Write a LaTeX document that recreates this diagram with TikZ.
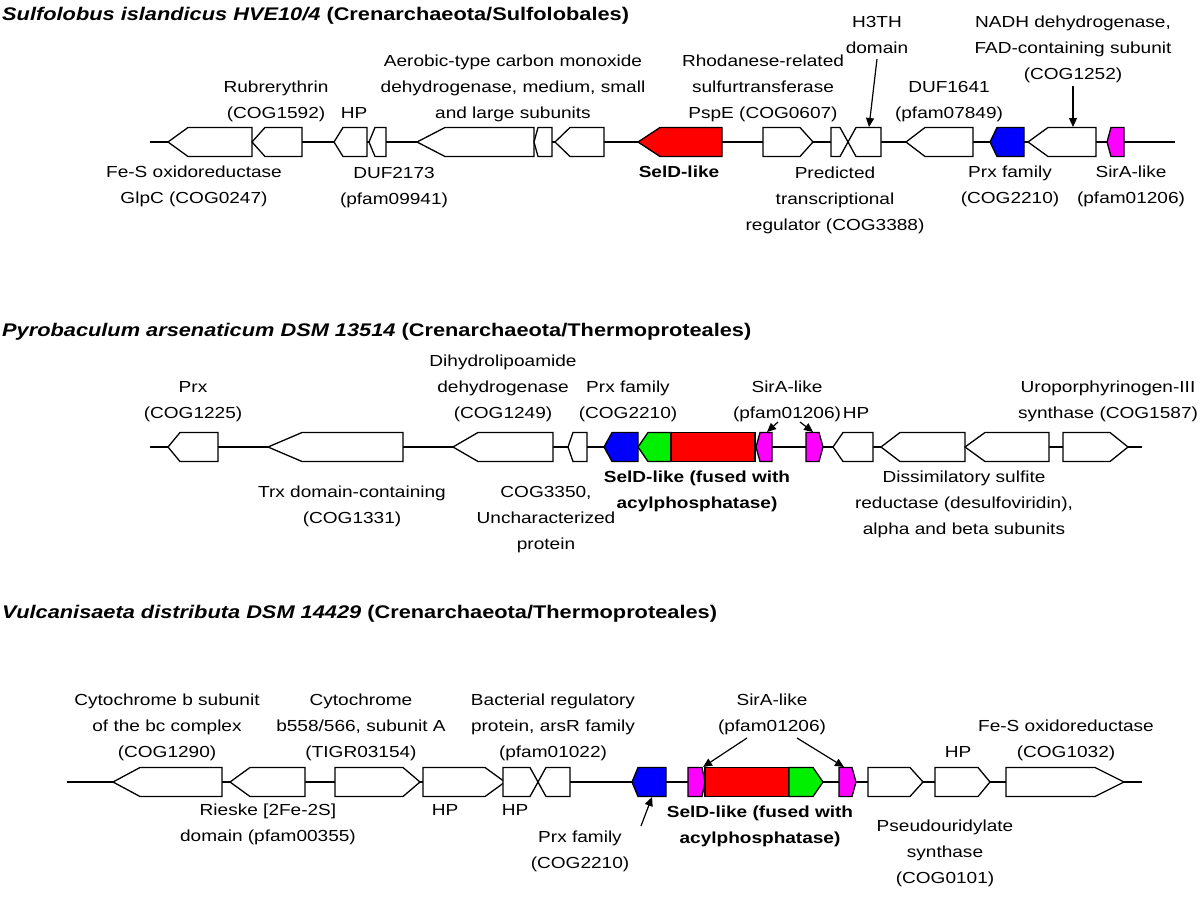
\documentclass[tikz,border=0pt]{standalone}
\usepackage{fontspec}
\setmainfont{Liberation Sans}[FakeStretch=1.19]
\usetikzlibrary{arrows.meta}
\definecolor{gred}{RGB}{255,0,0}
\definecolor{ggreen}{RGB}{0,240,0}
\definecolor{gblue}{RGB}{0,0,255}
\definecolor{gmag}{RGB}{255,0,255}
\newcommand{\hh}{14.5}
% left-pointing gene: name, tip, shoulder, right, y, fill
\newcommand{\gleft}[6]{\draw[gene,fill=#6] (#2,#5) -- (#3,{#5-\hh}) -- (#4,{#5-\hh}) -- (#4,{#5+\hh}) -- (#3,{#5+\hh}) -- cycle; \coordinate (#1) at ({(#2+#4)/2},#5);}
% right-pointing gene: name, left, shoulder, tip, y, fill
\newcommand{\gright}[6]{\draw[gene,fill=#6] (#2,{#5-\hh}) -- (#3,{#5-\hh}) -- (#4,#5) -- (#3,{#5+\hh}) -- (#2,{#5+\hh}) -- cycle; \coordinate (#1) at ({(#2+#4)/2},#5);}
% rectangular block: name, left, right, y, fill
\newcommand{\gblock}[5]{\draw[gene,fill=#5] (#2,{#4-\hh}) rectangle (#3,{#4+\hh}); \coordinate (#1) at ({(#2+#3)/2},#4);}
\begin{document}
\begin{tikzpicture}[x=1pt,y=-1pt,
  gene/.style={draw=black,line width=1.3pt,line join=miter},
  bb/.style={draw=black,line width=1.3pt},
  lab/.style={font=\fontsize{16}{26}\selectfont,align=center,inner sep=0pt},
  ttl/.style={font=\fontsize{18.3}{26}\selectfont\bfseries,anchor=base west,inner sep=0pt},
  arr/.style={draw=black,line width=1.2pt,-{Triangle[length=9pt,width=8pt]}}]
\useasboundingbox (0,0) rectangle (1200,897);

% ---------------- Row 1 ----------------
\node[ttl] (t1) at (2,20) {\textit{Sulfolobus islandicus HVE10/4} (Crenarchaeota/Sulfolobales)};
\coordinate (b1s) at (150,142); \coordinate (b1e) at (1175,142);
\draw[bb] (b1s) -- (b1e);
\gleft{g1a}{168}{188}{252}{142}{white}
\gleft{g1b}{252}{265}{302}{142}{white}
\gleft{g1c}{334}{343}{367}{142}{white}
\gleft{g1d}{369}{375}{386}{142}{white}
\gleft{g1e}{417}{445}{534}{142}{white}
\gleft{g1f}{534}{538}{552}{142}{white}
\gleft{g1g}{555}{570}{604}{142}{white}
\gleft{g1h}{638}{660}{722}{142}{gred}
\gright{g1i}{763}{800}{813}{142}{white}
\gright{g1j}{831}{840}{848}{142}{white}
\gleft{g1k}{848}{856}{881}{142}{white}
\gleft{g1l}{906}{925}{973}{142}{white}
\gleft{g1m}{990}{997}{1024}{142}{gblue}
\gleft{g1n}{1028}{1048}{1096}{142}{white}
\gleft{g1o}{1107}{1111}{1124}{142}{gmag}

\node[lab] (r1a) at (276,100) {\strut Rubrerythrin\\(COG1592)\strut};
\node[lab] (r1b) at (354,113) {\strut HP\strut};
\node[lab] (r1c) at (513,87) {\strut Aerobic-type carbon monoxide\\dehydrogenase, medium, small\\and large subunits\strut};
\node[lab] (r1d) at (763,87) {\strut Rhodanese-related\\sulfurtransferase\\PspE (COG0607)\strut};
\node[lab] (r1e) at (877,35) {\strut H3TH\\domain\strut};
\node[lab] (r1f) at (949,100) {\strut DUF1641\\(pfam07849)\strut};
\node[lab] (r1g) at (1073,48) {\strut NADH dehydrogenase,\\FAD-containing subunit\\(COG1252)\strut};
\node[lab] (r1h) at (194,185.5) {\strut Fe-S oxidoreductase\\GlpC (COG0247)\strut};
\node[lab] (r1i) at (394,186) {\strut DUF2173\\(pfam09941)\strut};
\node[lab] (r1j) at (679,172) {\strut\textbf{SelD-like}\strut};
\node[lab] (r1k) at (835,199) {\strut Predicted\\transcriptional\\regulator (COG3388)\strut};
\node[lab] (r1l) at (1010,185.5) {\strut Prx family\\(COG2210)\strut};
\node[lab] (r1m) at (1131,185.5) {\strut SirA-like\\(pfam01206)\strut};

\coordinate (a1s) at (877,59); \coordinate (a1e) at (869,127);
\coordinate (a2s) at (1073,86); \coordinate (a2e) at (1073,127);
\draw[arr] (a1s) -- (a1e);
\draw[arr] (a2s) -- (a2e);

% ---------------- Row 2 ----------------
\node[ttl] (t2) at (2,336) {\textit{Pyrobaculum arsenaticum DSM 13514} (Crenarchaeota/Thermoproteales)};
\coordinate (b2s) at (150,447); \coordinate (b2e) at (1142,447);
\draw[bb] (b2s) -- (b2e);
\gleft{g2a}{168}{180}{218}{447}{white}
\gleft{g2b}{268}{302}{403}{447}{white}
\gleft{g2c}{453}{478}{553}{447}{white}
\gleft{g2d}{568}{573}{587}{447}{white}
\gleft{g2e}{604}{612}{638}{447}{gblue}
\gleft{g2f}{638}{648}{671}{447}{ggreen}
\gblock{g2g}{671}{755}{447}{gred}
\gleft{g2h}{756}{760}{772}{447}{gmag}
\gright{g2i}{806}{819}{823}{447}{gmag}
\gleft{g2j}{833}{843}{873}{447}{white}
\gleft{g2k}{881}{900}{965}{447}{white}
\gleft{g2l}{965}{985}{1049}{447}{white}
\gright{g2m}{1063}{1110}{1128}{447}{white}

\node[lab] (r2a) at (193,400) {\strut Prx\\(COG1225)\strut};
\node[lab] (r2b) at (503,387) {\strut Dihydrolipoamide\\dehydrogenase\\(COG1249)\strut};
\node[lab] (r2c) at (628,400) {\strut Prx family\\(COG2210)\strut};
\node[lab] (r2d) at (787,400) {\strut SirA-like\\(pfam01206)\strut};
\node[lab] (r2e) at (856,413) {\strut HP\strut};
\node[lab] (r2f) at (1108,400) {\strut Uroporphyrinogen-III\\synthase (COG1587)\strut};
\node[lab] (r2g) at (352,505) {\strut Trx domain-containing\\(COG1331)\strut};
\node[lab] (r2h) at (546,518) {\strut COG3350,\\Uncharacterized\\protein\strut};
\node[lab,font=\fontsize{16}{26}\selectfont\bfseries] (r2i) at (697,490) {\strut SelD-like (fused with\\acylphosphatase)\strut};
\node[lab] (r2j) at (964,503) {\strut Dissimilatory sulfite\\reductase (desulfoviridin),\\alpha and beta subunits\strut};

\coordinate (a3s) at (778,422); \coordinate (a3e) at (767,432);
\coordinate (a4s) at (800,422); \coordinate (a4e) at (813,432);
\draw[arr] (a3s) -- (a3e);
\draw[arr] (a4s) -- (a4e);

% ---------------- Row 3 ----------------
\node[ttl] (t3) at (2,618) {\textit{Vulcanisaeta distributa DSM 14429} (Crenarchaeota/Thermoproteales)};
\coordinate (b3s) at (67,782); \coordinate (b3e) at (1142,782);
\draw[bb] (b3s) -- (b3e);
\gleft{g3a}{113}{140}{222}{782}{white}
\gleft{g3b}{230}{250}{305}{782}{white}
\gright{g3c}{335}{403}{420}{782}{white}
\gright{g3d}{423}{485}{505}{782}{white}
\gright{g3e}{503}{530}{538}{782}{white}
\gleft{g3f}{538}{546}{570}{782}{white}
\gleft{g3g}{632}{638}{666}{782}{gblue}
\gright{g3h}{688}{702}{705}{782}{gmag}
\gblock{g3i}{705}{789}{782}{gred}
\gright{g3j}{789}{813}{823}{782}{ggreen}
\gright{g3k}{839}{852}{856}{782}{gmag}
\gright{g3l}{868}{910}{923}{782}{white}
\gright{g3m}{935}{978}{990}{782}{white}
\gright{g3n}{1006}{1095}{1124}{782}{white}

\node[lab] (r3a) at (167,726) {\strut Cytochrome b subunit\\of the bc complex\\(COG1290)\strut};
\node[lab] (r3b) at (361,726) {\strut Cytochrome\\b558/566, subunit A\\(TIGR03154)\strut};
\node[lab] (r3c) at (553,726) {\strut Bacterial regulatory\\protein, arsR family\\(pfam01022)\strut};
\node[lab] (r3d) at (772,713) {\strut SirA-like\\(pfam01206)\strut};
\node[lab] (r3e) at (958,752) {\strut HP\strut};
\node[lab] (r3f) at (1066,739) {\strut Fe-S oxidoreductase\\(COG1032)\strut};
\node[lab] (r3g) at (268,823) {\strut Rieske [2Fe-2S]\\domain (pfam00355)\strut};
\node[lab] (r3h) at (445,810) {\strut HP\strut};
\node[lab] (r3i) at (515,810) {\strut HP\strut};
\node[lab] (r3j) at (580,850) {\strut Prx family\\(COG2210)\strut};
\node[lab,font=\fontsize{16}{26}\selectfont\bfseries] (r3k) at (760,825) {\strut SelD-like (fused with\\acylphosphatase)\strut};
\node[lab] (r3l) at (945,852) {\strut Pseudouridylate\\synthase\\(COG0101)\strut};

\coordinate (a5s) at (747,738); \coordinate (a5e) at (703,767);
\coordinate (a6s) at (797,738); \coordinate (a6e) at (844,767);
\coordinate (a7s) at (641,826); \coordinate (a7e) at (652,797);
\draw[arr] (a5s) -- (a5e);
\draw[arr] (a6s) -- (a6e);
\draw[arr] (a7s) -- (a7e);
\end{tikzpicture}
\end{document}
